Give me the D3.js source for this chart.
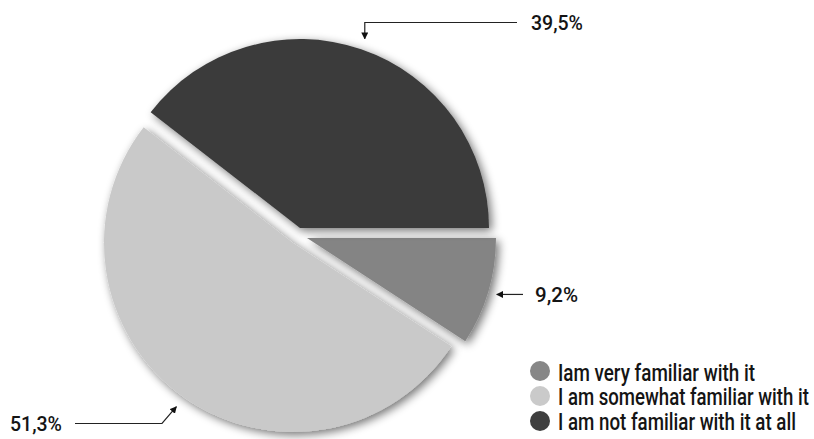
<!DOCTYPE html>
<html><head><meta charset="utf-8">
<script src="https://cdn.jsdelivr.net/npm/d3@7"></script>
<style>
html,body{margin:0;padding:0;background:#fff;}
svg{display:block;}
text{font-family:Roboto,"Liberation Sans",Arial,sans-serif;font-weight:500;fill:#141414;}
</style></head>
<body>
<svg id="chart" width="814" height="439"></svg>
<script>
// ---- data ----
const categories = ["Iam very familiar with it", "I am somewhat familiar with it", "I am not familiar with it at all"];
const values = [9.2, 51.3, 39.5];
const valueLabels = ["9,2%", "51,3%", "39,5%"];

// ---- style ----
const colors = ["#848484", "#c9c9c9", "#3b3b3b"];
const legendColors = ["#878787", "#cacaca", "#3f3f3f"];
const legendWidths = [197, 251, 238];
const labelWidths = [43, 52, 52];
const center = [296, 239];
const explode = [[11, -1], [-3, 4], [4, -11]];
const R = 189;

const svg = d3.select("#chart");
const defs = svg.append("defs");
const f = defs.append("filter").attr("id", "shadow").attr("x", "-20%").attr("y", "-20%").attr("width", "140%").attr("height", "140%");
f.append("feGaussianBlur").attr("in", "SourceAlpha").attr("stdDeviation", 5).attr("result", "b");
f.append("feOffset").attr("in", "b").attr("dx", 3).attr("dy", 3).attr("result", "o");
f.append("feComponentTransfer").attr("in", "o").attr("result", "s")
  .append("feFuncA").attr("type", "linear").attr("slope", 0.55);
const m = f.append("feMerge");
m.append("feMergeNode").attr("in", "s");
m.append("feMergeNode").attr("in", "SourceGraphic");

defs.append("marker").attr("id", "arrow").attr("viewBox", "0 0 10 10")
  .attr("refX", 9).attr("refY", 5).attr("markerWidth", 7).attr("markerHeight", 7)
  .attr("markerUnits", "userSpaceOnUse").attr("orient", "auto")
  .append("path").attr("d", "M0,0 L10,5 L0,10 z").attr("fill", "#111");

const pie = d3.pie().sort(null).startAngle(Math.PI / 2).endAngle(Math.PI / 2 + 2 * Math.PI);
const arcs = pie(values);
const arc = d3.arc().innerRadius(0).outerRadius(R);

const g = svg.append("g");
g.selectAll("path.slice").data(arcs).enter().append("path")
  .attr("class", "slice")
  .attr("d", arc)
  .attr("fill", (d, i) => colors[i])
  .attr("filter", "url(#shadow)")
  .attr("transform", (d, i) => `translate(${center[0] + explode[i][0]},${center[1] + explode[i][1]})`);

// fit a text to a target width by horizontal scaling
function fitText(sel, x, y, w, anchor) {
  const nat = sel.node().getComputedTextLength();
  const sx = w / nat;
  const x0 = anchor === "end" ? x - w : x;
  sel.attr("x", 0).attr("y", 0).attr("transform", `translate(${x0},${y}) scale(${sx},1)`);
}
function tip(i, extra) {
  const a = (arcs[i].startAngle + arcs[i].endAngle) / 2;
  return [center[0] + explode[i][0] + Math.sin(a) * (R + extra),
          center[1] + explode[i][1] - Math.cos(a) * (R + extra)];
}
function label(x, y, i, anchor) {
  const t = svg.append("text").attr("font-size", 21).text(valueLabels[i]);
  fitText(t, x, y, labelWidths[i], anchor);
}
const lineG = svg.append("g").attr("fill", "none").attr("stroke", "#222").attr("stroke-width", 1.2);
// medium slice (9,2%)
const t0 = tip(0, 9);
lineG.append("path").attr("d", `M523,${t0[1]} L${t0[0]},${t0[1]}`).attr("marker-end", "url(#arrow)");
label(535, t0[1] + 7.5, 0);
// light slice (51,3%)
const t1 = tip(1, 12);
lineG.append("path").attr("d", `M75,423.5 L162,423.5 L${t1[0]},${t1[1]}`).attr("marker-end", "url(#arrow)");
label(62, 430.5, 1, "end");
// dark slice (39,5%)
const t2 = tip(2, 11);
lineG.append("path").attr("d", `M517,22.5 L${t2[0]},22.5 L${t2[0]},${t2[1]}`).attr("marker-end", "url(#arrow)");
label(531, 30, 2);

// legend
const leg = svg.append("g").selectAll("g").data(categories).enter().append("g")
  .attr("transform", (d, i) => `translate(540,${371 + i * 25})`);
leg.append("circle").attr("r", 10).attr("fill", (d, i) => legendColors[i]);
leg.append("text").attr("font-size", 23).text(d => d)
  .each(function (d, i) { fitText(d3.select(this), 18, 9.5 - i * 0.5, legendWidths[i]); });
</script>
</body></html>
